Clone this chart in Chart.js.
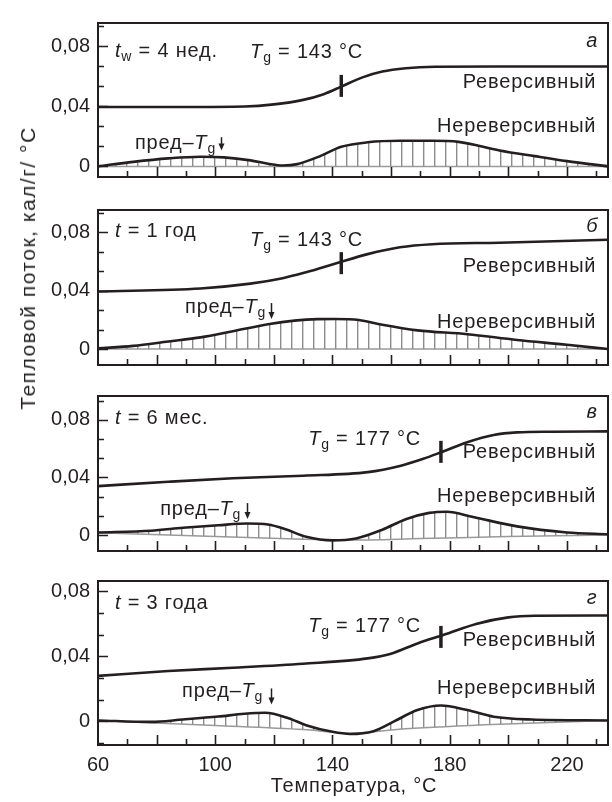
<!DOCTYPE html>
<html>
<head>
<meta charset="utf-8">
<script src="https://cdn.jsdelivr.net/npm/chart.js@4.4.0/dist/chart.umd.min.js"></script>
<style>
    body { margin: 0; background: #fff; width: 612px; height: 802px; position: relative; overflow: hidden;
           font-family: "Liberation Sans", Arial, sans-serif; color: #231f20; }
    canvas { position: absolute; left: 0; }
    .axis-title { position: absolute; white-space: nowrap; font-size: 20px; letter-spacing: 0.8px;
                  transform: translate(-50%, -50%); }
    #ytitle { left: 28px; top: 268px; font-size: 21px; letter-spacing: 1.5px;
              transform: translate(-50%, -50%) rotate(-90deg); }
    #xtitle { left: 354px; top: 785px; }
</style>
</head>
<body>
<canvas id="panel0"></canvas>
<canvas id="panel1"></canvas>
<canvas id="panel2"></canvas>
<canvas id="panel3"></canvas>
<div class="axis-title" id="ytitle">Тепловой поток, кал/г/ °C</div>
<div class="axis-title" id="xtitle">Температура, °C</div>

<script>
// Данные (температура, °C -> тепловой поток, кал/г/°C)

// а) t_w = 4 нед.
const rev1T = [60, 90, 110, 120, 130, 137, 143, 150, 157, 165, 175, 200, 234];
const rev1  = [0.0395, 0.0395, 0.0398, 0.0412, 0.0442, 0.0480, 0.0530, 0.0590, 0.0630, 0.0652, 0.0662, 0.0664, 0.0664];
const non1T = [60, 72, 84, 95, 103, 112, 118, 123, 128, 136, 143, 152, 163, 174, 183, 197, 209, 220, 234];
const non1  = [0.0, 0.003, 0.0053, 0.0064, 0.006, 0.004, 0.0018, 0.0006, 0.0015, 0.007, 0.013, 0.016, 0.017, 0.017, 0.0163, 0.0106, 0.0068, 0.0035, 0.0];
const base1T = [60, 234];
const base1  = [0, 0];

// б) t = 1 год
const rev2T = [60, 95, 112, 123, 130, 136, 143, 152, 163, 174, 197, 234];
const rev2  = [0.0394, 0.0415, 0.0448, 0.0485, 0.052, 0.0555, 0.0598, 0.065, 0.0697, 0.0718, 0.0728, 0.0748];
const non2T = [60, 72, 84, 95, 106, 118, 127, 135, 141, 149, 157, 169, 186, 203, 220, 234];
const non2  = [0.0005, 0.0022, 0.0052, 0.008, 0.0122, 0.017, 0.0195, 0.0205, 0.0206, 0.0199, 0.0166, 0.0128, 0.0102, 0.0062, 0.003, 0.0];
const base2T = [60, 234];
const base2  = [0, 0];

// в) t = 6 мес.
const rev3T = [60, 84, 106, 130, 152, 163, 171, 177, 186, 195, 203, 215, 234];
const rev3  = [0.034, 0.037, 0.0394, 0.0412, 0.0437, 0.048, 0.053, 0.0575, 0.0645, 0.0695, 0.0713, 0.0718, 0.072];
const non3T = [60, 78, 89, 101, 111, 118, 124, 131, 140, 148, 157, 165, 173, 179, 188, 203, 220, 234];
const non3  = [0.0018, 0.003, 0.005, 0.0068, 0.008, 0.0073, 0.004, -0.0012, -0.0037, -0.0024, 0.0037, 0.011, 0.0154, 0.0162, 0.0125, 0.006, 0.0018, 0.0005];
const base3T = [60, 100, 130, 145, 170, 200, 234];
const base3  = [0.0015, -0.001, -0.003, -0.0035, -0.0025, -0.001, 0.0];

// г) t = 3 года
const rev4T = [60, 84, 106, 130, 152, 160, 169, 178, 189, 200, 209, 234];
const rev4  = [0.028, 0.031, 0.033, 0.0355, 0.0388, 0.0417, 0.048, 0.0533, 0.060, 0.064, 0.065, 0.0652];
const non4T = [60, 78, 89, 101, 110, 117, 125, 131, 140, 146, 154, 161, 169, 177, 186, 195, 208, 234];
const non4  = [0.0006, -0.0003, 0.0012, 0.003, 0.0047, 0.0053, 0.002, -0.0023, -0.0064, -0.0077, -0.006, 0.0, 0.007, 0.0098, 0.007, 0.0029, 0.0012, 0.0006];
const base4T = [60, 100, 130, 146, 165, 197, 234];
const base4  = [0.0005, -0.0025, -0.005, -0.0072, -0.0045, -0.0017, 0.0005];

// Подписи и отметки
const xTickValues = [60, 100, 140, 180, 220];
const yTickValues = [0, 0.04, 0.08];
const panelLetters = ['а', 'б', 'в', 'г'];
const ageSub = ['w', '', '', ''];
const ageText = ['4 нед.', '1 год', '6 мес.', '3 года'];
const tgValues = [143, 143, 177, 177];
const preTgValues = [102, 119, 111, 119];

const ink = '#231f20';
const FONT = '"Liberation Sans", Arial, sans-serif';

// Расположение панелей и подписей (в координатах осей)
const panels = [
    { top: 13, bottom: 187, yMin: -0.00706, yMax: 0.0953,
      rev: [rev1T, rev1], non: [non1T, non1], base: [base1T, base1],
      ageY: 0.0776, tgX: 111.9, tgY: 0.0765, letterY: 0.0841, revY: 0.057, nonY: 0.0276,
      preX: 72.6, preY: 0.0165, arrowY: [0.0194, 0.0106], markY: 0.0535 },
    { top: 200, bottom: 375, yMin: -0.0109, yMax: 0.0952,
      rev: [rev2T, rev2], non: [non2T, non2], base: [base2T, base2],
      ageY: 0.0812, tgX: 111.9, tgY: 0.0752, letterY: 0.0848, revY: 0.0576, nonY: 0.0194,
      preX: 89.7, preY: 0.0297, arrowY: [0.0315, 0.0206], markY: 0.0588 },
    { top: 386, bottom: 561, yMin: -0.0111, yMax: 0.0966,
      rev: [rev3T, rev3], non: [non3T, non3], base: [base3T, base3],
      ageY: 0.0818, tgX: 131.7, tgY: 0.0677, letterY: 0.0862, revY: 0.0585, nonY: 0.0277,
      preX: 81.2, preY: 0.0191, arrowY: [0.0222, 0.0111], markY: 0.0578 },
    { top: 571, bottom: 745, yMin: -0.0145, yMax: 0.0864,
      rev: [rev4T, rev4], non: [non4T, non4], base: [base4T, base4],
      ageY: 0.0736, tgX: 131.7, tgY: 0.0591, letterY: 0.0765, revY: 0.051, nonY: 0.0214,
      preX: 88.7, preY: 0.0191, arrowY: [0.0203, 0.0104], markY: 0.052 }
];

// Штриховка вертикальными линиями
function makeHatch() {
    const c = document.createElement('canvas');
    c.width = 11; c.height = 4;
    const g = c.getContext('2d');
    g.fillStyle = '#8c8c8c';
    g.fillRect(5, 0, 1.4, 4);
    return g.createPattern(c, 'repeat');
}
const hatch = makeHatch();

function toPoints(pair) {
    return pair[0].map((t, i) => ({ x: t, y: pair[1][i] }));
}

function fontFor(style) {
    if (style === 'i') return 'italic 20px ' + FONT;
    if (style === 's') return '14px ' + FONT;
    return '20px ' + FONT;
}

// Текст с курсивом и нижними индексами
function drawParts(ctx, x, yc, parts, align) {
    ctx.letterSpacing = '0.8px';
    const widths = parts.map(p => { ctx.font = fontFor(p[1]); return ctx.measureText(p[0]).width; });
    const total = widths.reduce((a, b) => a + b, 0);
    let cx = align === 'right' ? x - total : (align === 'center' ? x - total / 2 : x);
    ctx.textBaseline = 'alphabetic';
    ctx.textAlign = 'left';
    parts.forEach((p, i) => {
        ctx.font = fontFor(p[1]);
        ctx.fillText(p[0], cx, yc + 7 + (p[1] === 's' ? 4 : 0));
        cx += widths[i];
    });
}

// Рамка и внутренние засечки
const frameTicks = {
    id: 'frameTicks',
    afterDatasetsDraw(chart) {
        const { ctx, chartArea: a, scales: { x, y } } = chart;
        ctx.save();
        ctx.strokeStyle = ink;
        ctx.lineWidth = 1.6;
        ctx.beginPath();
        for (let t = 70; t < x.max; t += 10) {
            const px = Math.round(x.getPixelForValue(t)) + 0.5;
            const len = t % 20 === 0 ? 10 : 6;
            ctx.moveTo(px, a.bottom);
            ctx.lineTo(px, a.bottom - len);
        }
        const step = 0.04 / 3;
        for (let k = Math.ceil(y.min / step); k * step <= y.max; k++) {
            const py = Math.round(y.getPixelForValue(k * step)) + 0.5;
            const len = k % 3 === 0 ? 10 : 6;
            ctx.moveTo(a.left, py);
            ctx.lineTo(a.left + len, py);
        }
        ctx.stroke();
        ctx.lineWidth = 2;
        ctx.strokeRect(a.left, a.top, a.right - a.left, a.bottom - a.top);
        ctx.restore();
    }
};

// Подписи, отметка T_g и стрелка пред-T_g
const notes = {
    id: 'notes',
    afterDraw(chart, args, opts) {
        const p = panels[opts.index];
        const i = opts.index;
        const { ctx, scales: { x, y } } = chart;
        ctx.save();
        ctx.fillStyle = ink;
        ctx.strokeStyle = ink;

        const agePart = ageSub[i] ? [['t', 'i'], [ageSub[i], 's'], [' = ' + ageText[i], '']]
                                  : [['t', 'i'], [' = ' + ageText[i], '']];
        drawParts(ctx, x.getPixelForValue(65.8), y.getPixelForValue(p.ageY), agePart, 'left');
        drawParts(ctx, x.getPixelForValue(p.tgX), y.getPixelForValue(p.tgY),
            [['T', 'i'], ['g', 's'], [' = ' + tgValues[i] + ' °C', '']], 'left');
        drawParts(ctx, x.getPixelForValue(228.6), y.getPixelForValue(p.letterY), [[panelLetters[i], 'i']], 'center');
        drawParts(ctx, x.getPixelForValue(230), y.getPixelForValue(p.revY), [['Реверсивный', '']], 'right');
        drawParts(ctx, x.getPixelForValue(230), y.getPixelForValue(p.nonY), [['Нереверсивный', '']], 'right');
        drawParts(ctx, x.getPixelForValue(p.preX), y.getPixelForValue(p.preY),
            [['пред–', ''], ['T', 'i'], ['g', 's']], 'left');

        // стрелка
        const ax = Math.round(x.getPixelForValue(preTgValues[i])) + 0.5;
        const ay1 = y.getPixelForValue(p.arrowY[0]);
        const ay2 = y.getPixelForValue(p.arrowY[1]);
        ctx.lineWidth = 1.5;
        ctx.beginPath();
        ctx.moveTo(ax, ay1);
        ctx.lineTo(ax, ay2 - 5);
        ctx.stroke();
        ctx.beginPath();
        ctx.moveTo(ax - 3, ay2 - 7);
        ctx.lineTo(ax + 3, ay2 - 7);
        ctx.lineTo(ax, ay2);
        ctx.closePath();
        ctx.fill();

        // отметка T_g на реверсивной кривой
        const mx = x.getPixelForValue(tgValues[i]);
        const my = y.getPixelForValue(p.markY);
        ctx.lineWidth = 3.5;
        ctx.beginPath();
        ctx.moveTo(mx, my - 11);
        ctx.lineTo(mx, my + 11);
        ctx.stroke();
        ctx.restore();
    }
};

function fmtY(v) {
    if (Math.abs(v) < 1e-9) return '0';
    return v.toFixed(2).replace('.', ',');
}

panels.forEach((p, i) => {
    const last = i === panels.length - 1;
    const canvas = document.getElementById('panel' + i);
    const padTop = 10;
    const height = last ? 802 - (p.top - padTop) : (p.bottom - p.top) + 2 * padTop;
    canvas.width = 612;
    canvas.height = height;
    canvas.style.top = (p.top - padTop) + 'px';

    new Chart(canvas.getContext('2d'), {
        type: 'line',
        data: {
            datasets: [
                {
                    label: 'Реверсивный',
                    data: toPoints(p.rev),
                    borderColor: ink,
                    borderWidth: 2.6,
                    pointRadius: 0,
                    cubicInterpolationMode: 'monotone',
                    fill: false
                },
                {
                    label: 'Нереверсивный',
                    data: toPoints(p.non),
                    borderColor: ink,
                    borderWidth: 2.6,
                    pointRadius: 0,
                    cubicInterpolationMode: 'monotone',
                    fill: { target: 2, above: hatch, below: 'rgba(0,0,0,0)' }
                },
                {
                    label: 'База',
                    data: toPoints(p.base),
                    borderColor: '#9a9a9a',
                    borderWidth: 1.5,
                    pointRadius: 0,
                    cubicInterpolationMode: 'monotone',
                    fill: false
                }
            ]
        },
        options: {
            responsive: false,
            animation: false,
            events: [],
            layout: { padding: { top: padTop, bottom: last ? 0 : padTop, left: 0, right: 4 } },
            plugins: {
                legend: { display: false },
                tooltip: { enabled: false },
                notes: { index: i }
            },
            scales: {
                x: {
                    type: 'linear',
                    min: 60,
                    max: 234,
                    display: last,
                    grid: { display: false, drawTicks: false },
                    border: { display: false },
                    afterBuildTicks: scale => { scale.ticks = xTickValues.map(v => ({ value: v })); },
                    afterFit: scale => { if (last) scale.height = 802 - p.bottom; },
                    ticks: {
                        autoSkip: false,
                        maxRotation: 0,
                        padding: 8,
                        color: ink,
                        font: { family: FONT, size: 20 },
                        callback: v => String(v)
                    }
                },
                y: {
                    min: p.yMin,
                    max: p.yMax,
                    grid: { display: false, drawTicks: false },
                    border: { display: false },
                    afterBuildTicks: scale => { scale.ticks = yTickValues.map(v => ({ value: v })); },
                    afterFit: scale => { scale.width = 98; },
                    ticks: {
                        autoSkip: false,
                        padding: 8,
                        color: ink,
                        font: { family: FONT, size: 20 },
                        callback: v => fmtY(v)
                    }
                }
            }
        },
        plugins: [frameTicks, notes]
    });
});
</script>
</body>
</html>
